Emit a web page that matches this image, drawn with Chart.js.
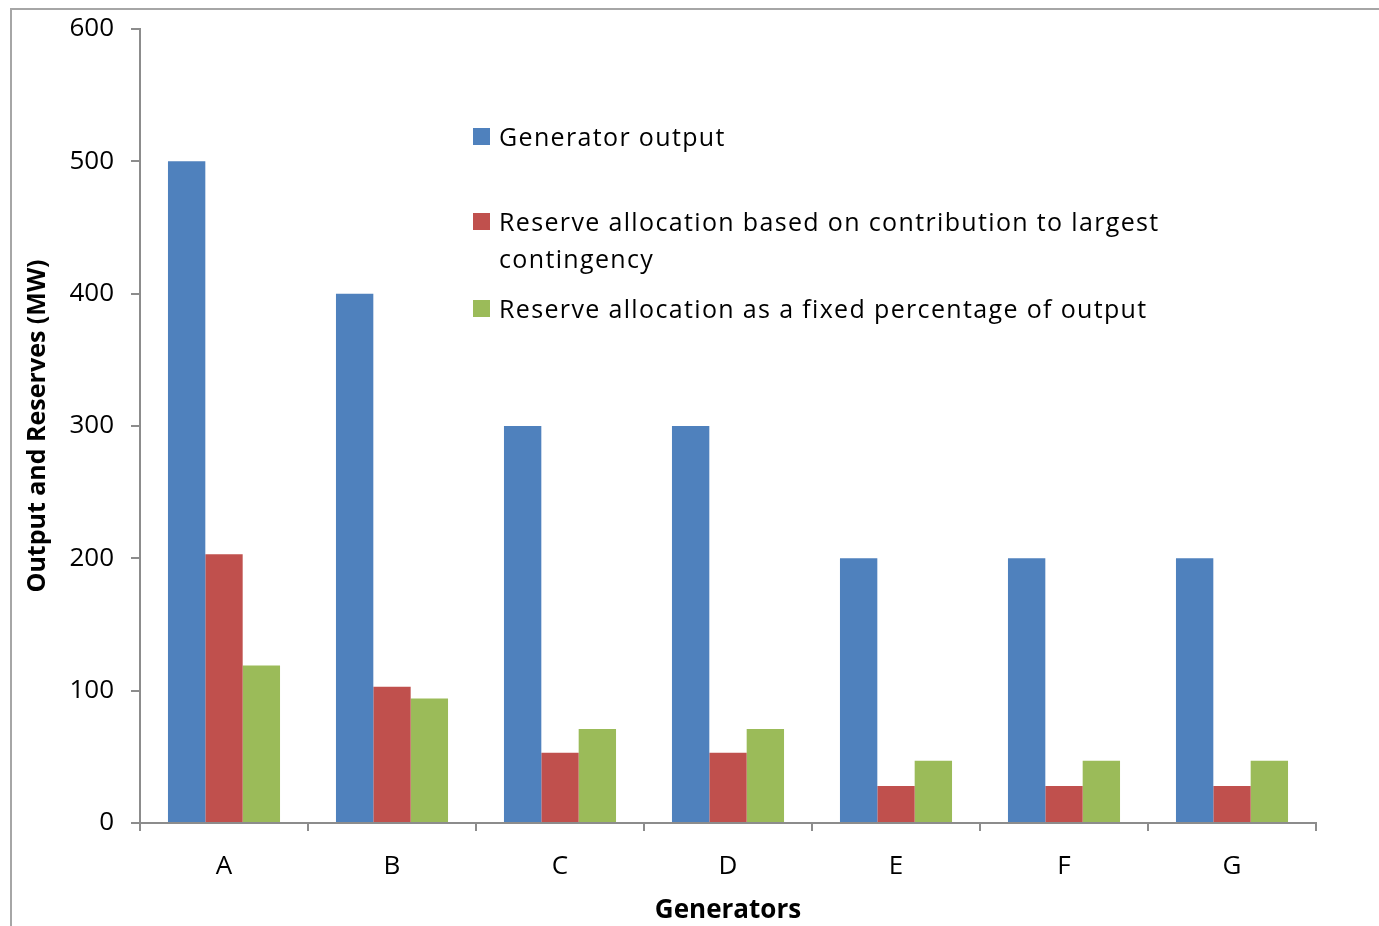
<!DOCTYPE html>
<html>
<head>
<meta charset="utf-8">
<script src="https://cdn.jsdelivr.net/npm/chart.js@4/dist/chart.umd.min.js"></script>
<style>
  html, body { margin: 0; padding: 0; background: #fff; }
  #wrap { position: relative; width: 1379px; height: 926px; overflow: hidden; }
  #frame { position: absolute; left: 10px; top: 8px; width: 1400px; height: 960px;
           border-top: 2px solid #a6a6a6; border-left: 2px solid #a6a6a6; box-sizing: border-box; }
  #legenda { position: absolute; left: 473px; top: 118px; font-family: 'Open Sans', sans-serif;
             font-size: 25px; line-height: 37px; letter-spacing: 1.35px; color: #000; }
  .leg-item { display: flex; align-items: flex-start; }
  .leg-item:nth-child(1) { margin-bottom: 48px; }
  .leg-item:nth-child(2) { margin-bottom: 13px; }
  .leg-box { width: 17px; height: 17px; margin-top: 10px; margin-right: 9px; flex-shrink: 0; }
  .leg-txt { max-width: 700px; }
</style>
</head>
<body>
<div id="wrap">
  <div id="frame"></div>
  <canvas id="chartGeradores"></canvas>
  <div id="legenda"></div>
</div>
<script>
// ─── Dados ──────────────────────────────────────────
const GERADORES      = ['A', 'B', 'C', 'D', 'E', 'F', 'G'];
const SAIDA          = [500, 400, 300, 300, 200, 200, 200];
const RESERVA_CONTIG = [203, 103, 53, 53, 28, 28, 28];
const RESERVA_FIXA   = [119, 94, 71, 71, 47, 47, 47];
const Y_TICKS        = [0, 100, 200, 300, 400, 500, 600];

const SERIES = [
  'Generator output',
  'Reserve allocation based on contribution to largest contingency',
  'Reserve allocation as a fixed percentage of output',
];

// ─── Paleta ─────────────────────────────────────────
const CORES = {
  blue:  '#4F81BD',
  red:   '#C0504D',
  green: '#9BBB59',
  axis:  '#8c8c8c',
};

const FONTE = "'Open Sans', sans-serif";

const ctx = document.getElementById('chartGeradores').getContext('2d');

const chart = new Chart(ctx, {
  type: 'bar',
  data: {
    labels: GERADORES,
    datasets: [
      { label: SERIES[0], data: SAIDA,          backgroundColor: CORES.blue },
      { label: SERIES[1], data: RESERVA_CONTIG, backgroundColor: CORES.red },
      { label: SERIES[2], data: RESERVA_FIXA,   backgroundColor: CORES.green },
    ],
  },
  options: {
    responsive: true,
    maintainAspectRatio: false,
    animation: false,
    layout: { padding: { left: 0, top: 29, right: 63, bottom: 0 } },
    datasets: { bar: { categoryPercentage: 0.667, barPercentage: 1 } },
    plugins: {
      legend: { display: false },
      tooltip: { enabled: false },
    },
    scales: {
      x: {
        afterFit: s => { s.height = 103; s.paddingLeft = 0; s.paddingRight = 0; },
        grid: {
          offset: true,
          drawOnChartArea: false,
          color: CORES.axis,
          lineWidth: 2,
          tickLength: 8,
        },
        border: { color: CORES.axis, width: 2 },
        ticks: { color: '#000', font: { family: FONTE, size: 26 }, padding: 20 },
        title: {
          display: true,
          text: 'Generators',
          color: '#000',
          font: { family: FONTE, size: 26, weight: 'bold' },
          padding: { top: 0, bottom: 0 },
        },
      },
      y: {
        min: 0,
        max: 600,
        // largura fixa do eixo e sem folga extra acima/abaixo
        afterFit: s => { s.width = 140; s.paddingTop = 0; s.paddingBottom = 0; },
        afterBuildTicks: s => { s.ticks = Y_TICKS.map(v => ({ value: v })); },
        grid: {
          drawOnChartArea: false,
          color: CORES.axis,
          lineWidth: 2,
          tickLength: 9,
        },
        border: { color: CORES.axis, width: 2 },
        ticks: { color: '#000', font: { family: FONTE, size: 26 }, padding: 17 },
        title: {
          display: true,
          text: 'Output and Reserves (MW)',
          color: '#000',
          font: { family: FONTE, size: 25, weight: 'bold' },
          padding: { top: 23, bottom: 0 },
        },
      },
    },
  },
});

// ─── Legenda manual ─────────────────────────────────
document.getElementById('legenda').innerHTML = chart.data.datasets.map(ds => `
  <div class="leg-item">
    <span class="leg-box" style="background:${ds.backgroundColor}"></span>
    <span class="leg-txt">${ds.label}</span>
  </div>
`).join('');
</script>
</body>
</html>
